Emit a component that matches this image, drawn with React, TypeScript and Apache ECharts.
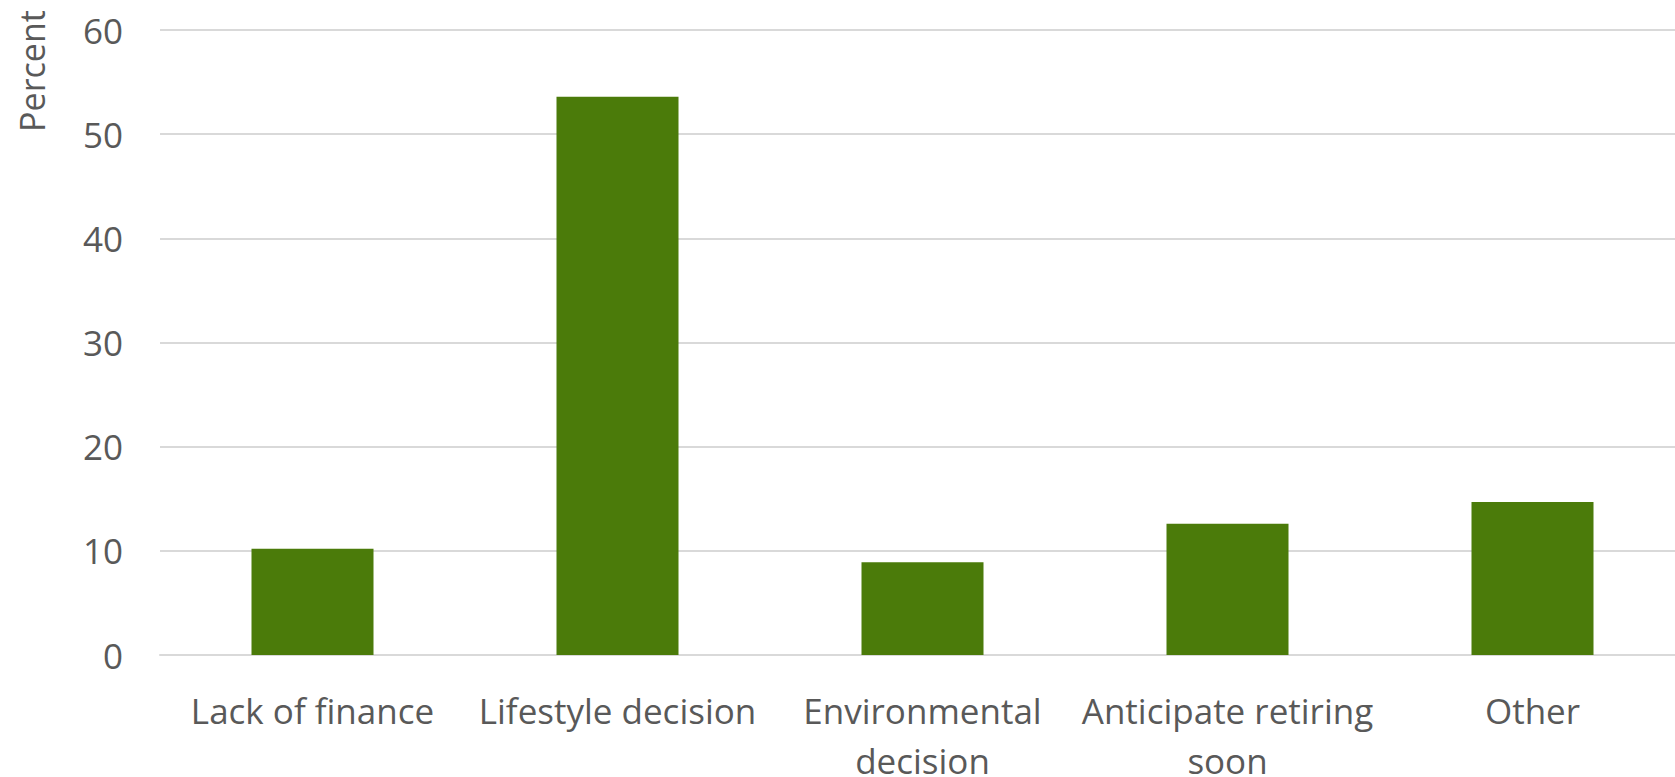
import React, { useEffect, useRef } from "react";
import * as echarts from "echarts";

const categories = [
  "Lack of finance",
  "Lifestyle decision",
  "Environmental\ndecision",
  "Anticipate retiring\nsoon",
  "Other",
];
const percentValues = [10.2, 53.6, 8.9, 12.6, 14.7];
const yTicks = { min: 0, max: 60, interval: 10 };

const FONT = "'Open Sans', 'Noto Sans', sans-serif";
const TEXT_COLOR = "#595959";
const GRID_COLOR = "#d9d9d9";
const BAR_COLOR = "#4b7b0a";

export default function App() {
  const ref = useRef<HTMLDivElement>(null);

  useEffect(() => {
    document.body.style.margin = "0";
    if (!ref.current) return;
    const chart = echarts.init(ref.current, null, { renderer: "svg" });
    chart.setOption({
      animation: false,
      backgroundColor: "#ffffff",
      grid: {
        left: 160,
        right: 15,
        top: 30,
        bottom: 122,
        containLabel: false,
        outerBoundsMode: "none",
      },
      xAxis: {
        type: "category",
        data: categories,
        axisLine: { show: true, lineStyle: { color: GRID_COLOR, width: 2 } },
        axisTick: { show: false },
        axisLabel: {
          color: TEXT_COLOR,
          fontFamily: FONT,
          fontSize: 35,
          lineHeight: 50,
          margin: 30,
          interval: 0,
        },
      },
      yAxis: {
        type: "value",
        min: yTicks.min,
        max: yTicks.max,
        interval: yTicks.interval,
        axisLine: { show: false },
        axisTick: { show: false },
        splitLine: { lineStyle: { color: GRID_COLOR, width: 2 } },
        axisLabel: {
          color: TEXT_COLOR,
          fontFamily: FONT,
          fontSize: 35,
          margin: 37,
        },
      },
      graphic: [
        {
          type: "text",
          x: 32,
          y: 71,
          rotation: Math.PI / 2,
          style: {
            text: "Percent",
            fill: TEXT_COLOR,
            font: `34px ${FONT}`,
            textAlign: "center",
            textVerticalAlign: "middle",
          },
        },
      ],
      series: [
        {
          type: "bar",
          data: percentValues,
          barWidth: "40%",
          itemStyle: { color: BAR_COLOR },
        },
      ],
    });
    return () => chart.dispose();
  }, []);

  return (
    <div style={{ width: 1675, height: 777, overflow: "hidden", position: "relative" }}>
      <div ref={ref} style={{ width: 1700, height: 777 }} />
    </div>
  );
}
